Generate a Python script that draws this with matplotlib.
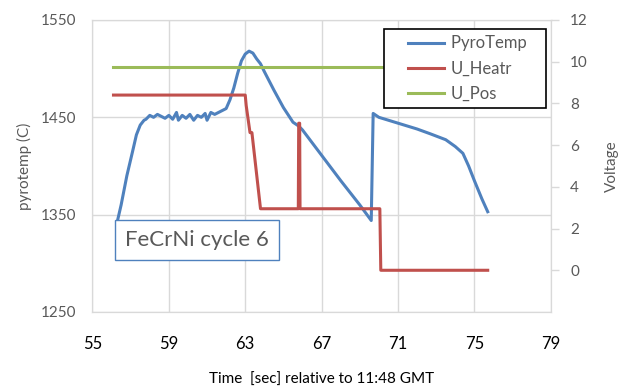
import matplotlib.pyplot as plt
from matplotlib.legend_handler import HandlerLine2D

plt.rcParams['font.family'] = ['Lato', 'DejaVu Sans']

# PyroTemp trace (time in s, temperature in C)
pyro_t = [56.3, 56.5, 56.8, 57.1, 57.3, 57.5, 57.7,
          57.8, 58.0, 58.2, 58.4, 58.6, 58.8, 59.0, 59.2, 59.4, 59.5, 59.7, 59.9,
          60.1, 60.3, 60.5, 60.7, 60.9, 61.0, 61.2, 61.4, 61.6, 61.8,
          62.0, 62.2, 62.4, 62.6, 62.8, 63.0, 63.2, 63.4, 63.6, 63.8,
          64.0, 64.5, 65.0, 65.5, 65.8, 66.0, 67.0, 68.0, 69.0, 69.6,
          69.7, 70.0, 71.0, 72.0, 72.7, 73.5, 74.0, 74.4, 74.7, 75.0, 75.4, 75.7]
pyro_temp = [1343, 1360, 1390, 1415, 1432, 1442, 1447,
             1448, 1452, 1450, 1453, 1451, 1449, 1452, 1448, 1455, 1447, 1452, 1449,
             1453, 1447, 1452, 1450, 1454, 1447, 1455, 1453, 1455, 1457,
             1459, 1468, 1480, 1495, 1508, 1515, 1518, 1516, 1510, 1505,
             1497, 1478, 1460, 1445, 1441, 1437, 1411, 1385, 1360, 1344,
             1454, 1450, 1444, 1438, 1433, 1427, 1420, 1413, 1400, 1385, 1366, 1353]

# U_Heatr (V)
heatr_t = [56.1, 63.0, 63.05, 63.25, 63.35, 63.8, 65.78, 65.8, 65.85, 65.87, 70.05, 70.1, 75.7]
heatr_v = [8.4, 8.4, 7.9, 6.6, 6.6, 2.95, 2.95, 7.05, 7.05, 2.95, 2.95, 0.0, 0.0]

# U_Pos (V)
pos_t = [56.1, 75.7]
pos_v = [9.75, 9.75]

blue = '#4F81BD'
red = '#C0504D'
green = '#9BBB59'
grey = '#595959'
gridc = '#D9D9D9'

fig, ax1 = plt.subplots(figsize=(6.22, 3.88), dpi=100)
fig.subplots_adjust(left=0.1487, right=0.8854, top=0.9485, bottom=0.1959)

p1, = ax1.plot(pyro_t, pyro_temp, color=blue, lw=2.2, label='PyroTemp')
ax1.set_xlim(55, 79)
ax1.set_ylim(1250, 1550)
ax1.set_xticks(range(55, 80, 4))
ax1.set_yticks([1250, 1350, 1450, 1550])
ax1.grid(True, color=gridc, lw=1)
ax1.set_axisbelow(True)
ax1.tick_params(axis='x', length=0, pad=17, labelsize=12, labelcolor='black')
ax1.tick_params(axis='y', length=0, pad=12, labelsize=11, labelcolor=grey)
ax1.set_ylabel('pyrotemp (C)', color=grey, fontsize=11, labelpad=6)
ax1.set_xlabel('Time  [sec] relative to 11:48 GMT', fontsize=11, labelpad=15)
for s in ax1.spines.values():
    s.set_color(gridc)

ax2 = ax1.twinx()
p2, = ax2.plot(heatr_t, heatr_v, color=red, lw=2.2, label='U_Heatr')
p3, = ax2.plot(pos_t, pos_v, color=green, lw=2.2, label='U_Pos')
ax2.set_ylim(-2, 12)
ax2.set_yticks(range(0, 13, 2))
ax2.tick_params(axis='y', length=6, width=1, color=gridc, pad=8, labelsize=11, labelcolor=grey)
ax2.set_ylabel('Voltage', color=grey, fontsize=11, labelpad=12)
for s in ax2.spines.values():
    s.set_color(gridc)

hmap = {h: HandlerLine2D(xpad=1.0) for h in (p1, p2, p3)}
leg = ax2.legend(handles=[p1, p2, p3], labels=['PyroTemp   ', 'U_Heatr', 'U_Pos'],
                 handler_map=hmap, loc='upper right', bbox_to_anchor=(0.99, 0.97),
                 fancybox=False, framealpha=1, edgecolor='black', fontsize=12,
                 handlelength=3.2, handletextpad=0.4, borderpad=0.4, labelspacing=0.55,
                 borderaxespad=0)
for t in leg.get_texts():
    t.set_color(grey)
leg.get_frame().set_linewidth(1.2)

ax2.text(0.2275, 0.245, 'FeCrNi cycle 6', transform=ax2.transAxes, ha='center', va='center',
         fontsize=16, color=grey, zorder=10,
         bbox=dict(boxstyle='square,pad=0.45', facecolor='white', edgecolor=blue, lw=1))

fig.savefig('out.png', dpi=100)
